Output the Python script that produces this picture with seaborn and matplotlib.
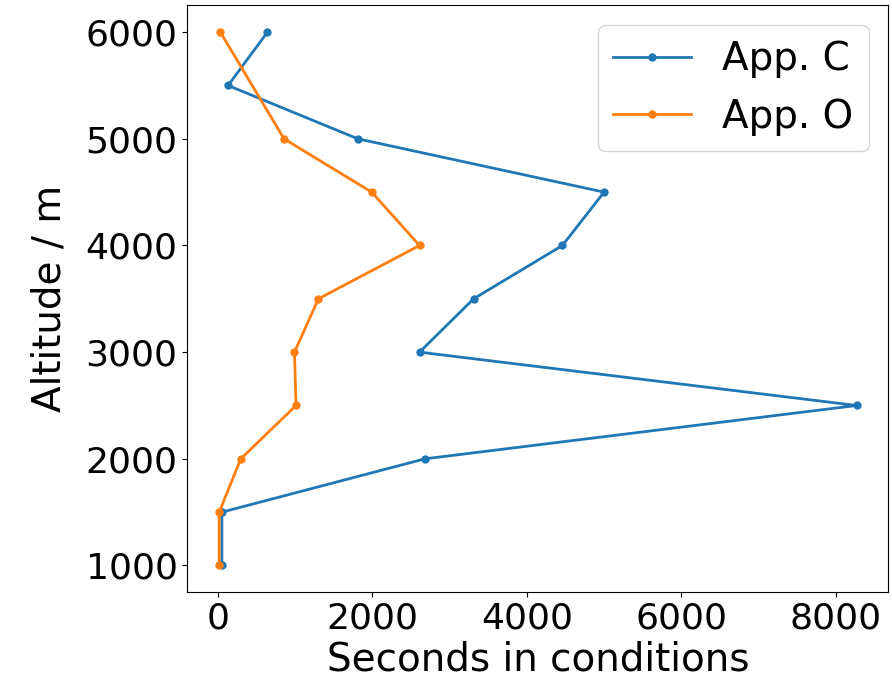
import pandas as pd
import matplotlib
matplotlib.use("Agg")
import matplotlib.pyplot as plt
import seaborn as sns

# seconds spent in conditions per altitude band
alt_c = [6000, 5500, 5000, 4500, 4000, 3500, 3000, 2500, 2000, 1500, 1000]
sec_c = [640, 130, 1810, 5000, 4460, 3310, 2610, 8270, 2680, 50, 50]

alt_o = [6000, 5000, 4500, 4000, 3500, 3000, 2500, 2000, 1500, 1000]
sec_o = [30, 855, 1990, 2610, 1300, 990, 1010, 295, 15, 15]

df = pd.concat([
    pd.DataFrame({"sec": sec_c, "alt": alt_c, "app": "App. C"}),
    pd.DataFrame({"sec": sec_o, "alt": alt_o, "app": "App. O"}),
])

plt.rcParams["font.size"] = 26
fig, ax = plt.subplots(figsize=(8.92, 6.83), dpi=100)
sns.lineplot(data=df, x="sec", y="alt", hue="app", sort=False, marker="o",
             markersize=6, markeredgewidth=0, estimator=None, ax=ax,
             palette=["#1f77b4", "#ff7f0e"], linewidth=2)
ax.set_xlabel("Seconds in conditions", fontsize=28, labelpad=3)
ax.set_ylabel("Altitude / m", fontsize=28, labelpad=12)
ax.set_xticks([0, 2000, 4000, 6000, 8000])
ax.set_yticks([1000, 2000, 3000, 4000, 5000, 6000])
ax.legend(title=None, loc="upper right", fontsize=28)
fig.subplots_adjust(left=0.21, right=0.996, top=0.992, bottom=0.133)
plt.savefig("out.png")
